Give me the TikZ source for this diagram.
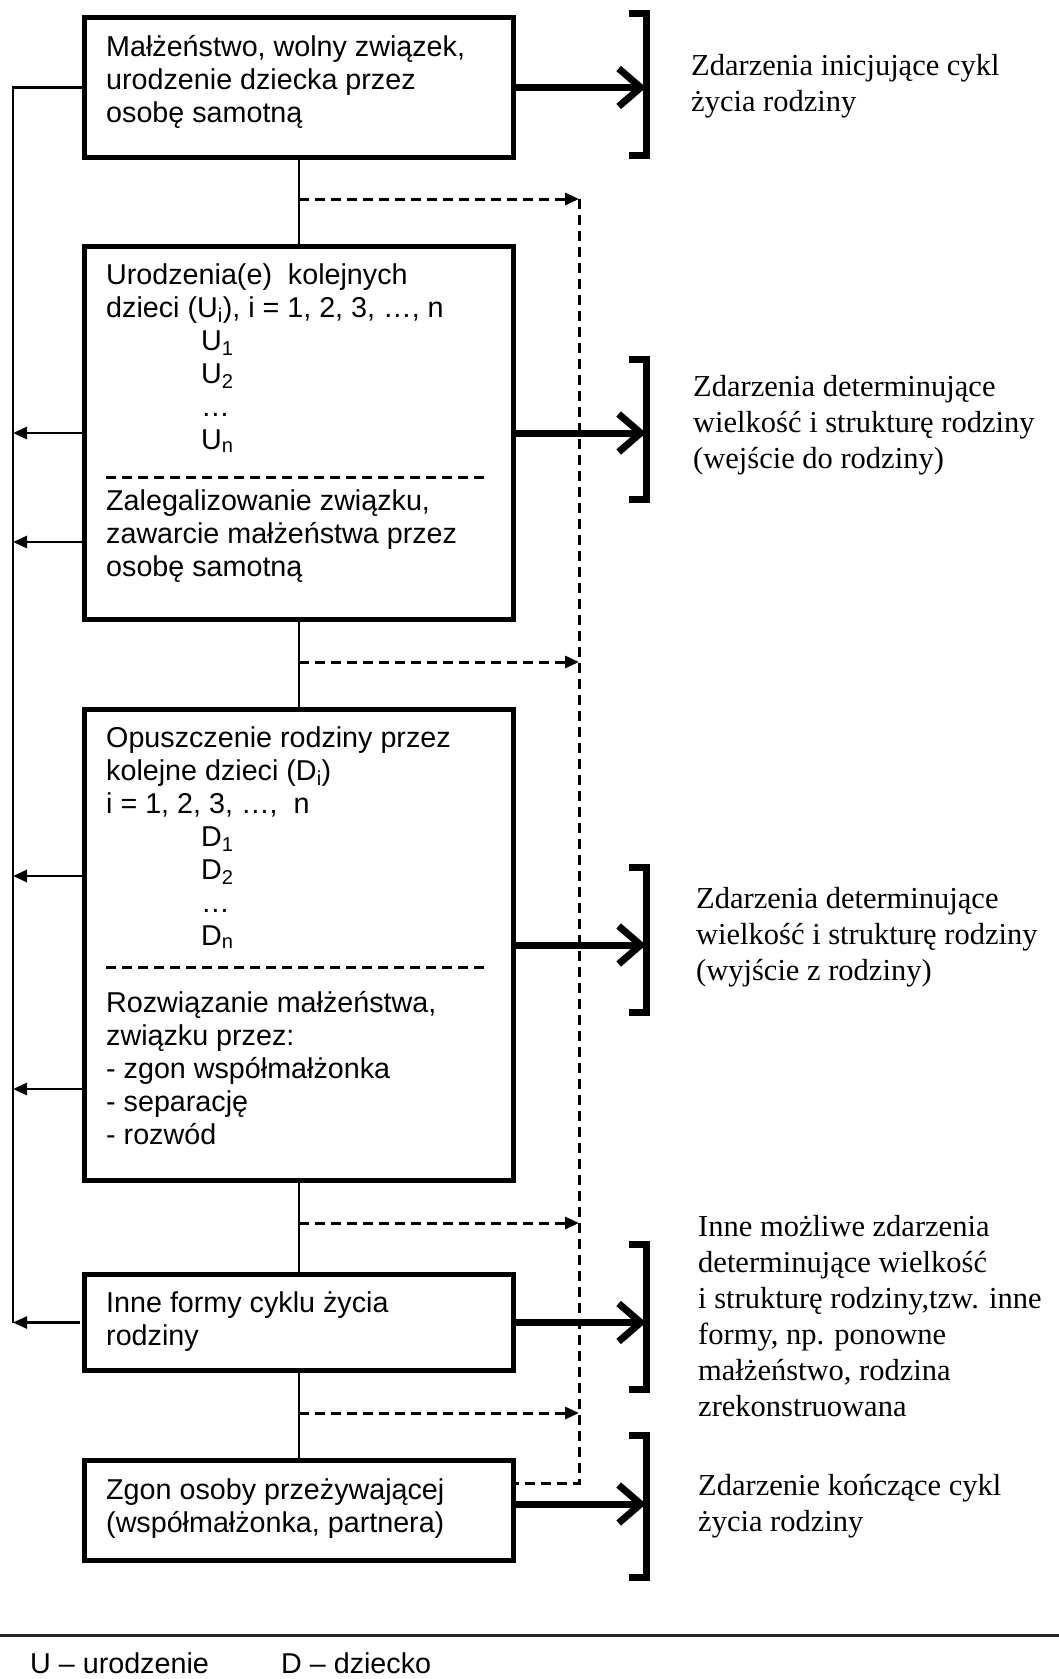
\documentclass[tikz,border=0pt]{standalone}
\usepackage{fontspec}
\setmainfont{Liberation Serif}
\newfontfamily\sansbox{Liberation Sans}
\usetikzlibrary{arrows.meta}

\tikzset{
  event/.style={draw, rectangle, line width=5pt, inner sep=0pt,
                minimum width=429pt, anchor=north west},
  boxtext/.style={anchor=base west, inner sep=0pt,
                  font=\sansbox\fontsize{28.7}{33}\selectfont},
  sidetext/.style={anchor=base west, inner sep=0pt,
                   font=\fontsize{30.5}{36}\selectfont},
  link/.style={line width=2.6pt},
  thinarr/.style={line width=2.6pt, -{Triangle[length=14pt,width=12pt]}},
  dasharr/.style={line width=3pt, dash pattern=on 10pt off 6pt,
                  -{Triangle[length=14pt,width=12pt]}},
  dashsep/.style={line width=3pt, dash pattern=on 10pt off 6pt},
  bigarr/.style={line width=7pt, -{Straight Barb[length=22pt,width=38pt]}},
  bracket/.style={line width=7pt},
}

\begin{document}
\begin{tikzpicture}[x=1pt,y=-1pt]
\useasboundingbox (0,0) rectangle (1059,1679);

  % helper rails
  \coordinate (leftx) at (13,0);
  \coordinate (dashx) at (579,0);
  \coordinate (rail)  at (646,0);

  % event boxes
  \node[event, minimum height=140pt] (init)   at (82,15)   {};
  \node[event, minimum height=373pt] (births) at (82,244)  {};
  \node[event, minimum height=471pt] (leave)  at (82,707)  {};
  \node[event, minimum height=96pt]  (other)  at (82,1272) {};
  \node[event, minimum height=100pt] (death)  at (82,1458) {};

  % box texts
  \node[boxtext] (inittxt) at (106,56) {\begin{tabular}[t]{@{}l@{}}
    Małżeństwo, wolny związek,\\ urodzenie dziecka przez\\ osobę samotną\end{tabular}};
  \node[boxtext] (birthstxt) at (106,284) {\begin{tabular}[t]{@{}l@{}}
    Urodzenia(e)\ \ kolejnych\\ dzieci (U\textsubscript{i}), i = 1, 2, 3, …, n\\
    \hspace{95pt}U\textsubscript{1}\\ \hspace{95pt}U\textsubscript{2}\\
    \hspace{95pt}…\\ \hspace{95pt}U\textsubscript{n}\end{tabular}};
  \draw[dashsep] (106,477) -- (488,477);
  \node[boxtext] (legaltxt) at (106,510) {\begin{tabular}[t]{@{}l@{}}
    Zalegalizowanie związku,\\ zawarcie małżeństwa przez\\ osobę samotną\end{tabular}};
  \node[boxtext] (leavetxt) at (106,747) {\begin{tabular}[t]{@{}l@{}}
    Opuszczenie rodziny przez\\ kolejne dzieci (D\textsubscript{i})\\ i = 1, 2, 3, …,\ \ n\\
    \hspace{95pt}D\textsubscript{1}\\ \hspace{95pt}D\textsubscript{2}\\
    \hspace{95pt}…\\ \hspace{95pt}D\textsubscript{n}\end{tabular}};
  \draw[dashsep] (106,967) -- (490,967);
  \node[boxtext] (splittxt) at (106,1012) {\begin{tabular}[t]{@{}l@{}}
    Rozwiązanie małżeństwa,\\ związku przez:\\ - zgon współmałżonka\\
    - separację\\ - rozwód\end{tabular}};
  \node[boxtext] (othertxt) at (106,1312) {\begin{tabular}[t]{@{}l@{}}
    Inne formy cyklu życia\\ rodziny\end{tabular}};
  \node[boxtext] (deathtxt) at (106,1499) {\begin{tabular}[t]{@{}l@{}}
    Zgon osoby przeżywającej\\ (współmałżonka, partnera)\end{tabular}};

  % main chain
  \draw[link] (init.south) -- (births.north);
  \draw[link] (births.south) -- (leave.north);
  \draw[link] (leave.south) -- (other.north);
  \draw[link] (other.south) -- (death.north);

  % left return line
  \draw[link] (init.west) -- (init.west -| leftx) -- (other.west -| leftx);
  \draw[thinarr] (births.west) -- (births.west -| leftx);
  \draw[thinarr] (births.west |- 0,542) -- (leftx |- 0,542);
  \draw[thinarr] (leave.west |- 0,876) -- (leftx |- 0,876);
  \draw[thinarr] (leave.west |- 0,1089) -- (leftx |- 0,1089);
  \draw[thinarr, {Triangle[length=14pt,width=12pt]}-, shorten >=2.5pt]
    (other.west -| leftx) -- (other.west);

  % dashed side line
  \coordinate (d1) at (init.south |- 0,199);
  \coordinate (d2) at (births.south |- 0,662);
  \coordinate (d3) at (leave.south |- 0,1223);
  \coordinate (d4) at (other.south |- 0,1413);
  \foreach \d in {d1,d2,d3,d4}
    \draw[dasharr] (\d) -- (\d -| dashx);
  \draw[dashsep] (dashx |- d1) -- (dashx |- 0,1483) -- (death.east |- 0,1483);

  % brackets
  \draw[bracket] (629,13)   -- (rail |- 0,13)   -- (rail |- 0,155)  -- (629,155);
  \draw[bracket] (629,359)  -- (rail |- 0,359)  -- (rail |- 0,499)  -- (629,499);
  \draw[bracket] (629,867)  -- (rail |- 0,867)  -- (rail |- 0,1012) -- (629,1012);
  \draw[bracket] (629,1244) -- (rail |- 0,1244) -- (rail |- 0,1389) -- (629,1389);
  \draw[bracket] (629,1435) -- (rail |- 0,1435) -- (rail |- 0,1577) -- (629,1577);

  % thick arrows
  \draw[bigarr] (init.east)   -- (init.east -| rail);
  \draw[bigarr] (births.east) -- (births.east -| rail);
  \draw[bigarr] (leave.east)  -- (leave.east -| rail);
  \draw[bigarr] (other.east)  -- (other.east -| rail);
  \draw[bigarr] (death.east |- 0,1504) -- (rail |- 0,1504);

  % side labels
  \node[sidetext] (initlab) at (691,75) {\begin{tabular}[t]{@{}l@{}}
    Zdarzenia inicjujące cykl\\ życia rodziny\end{tabular}};
  \node[sidetext] (birthslab) at (693,396) {\begin{tabular}[t]{@{}l@{}}
    Zdarzenia determinujące\\ wielkość i strukturę rodziny\\ (wejście do rodziny)\end{tabular}};
  \node[sidetext] (leavelab) at (696,908) {\begin{tabular}[t]{@{}l@{}}
    Zdarzenia determinujące\\ wielkość i strukturę rodziny\\ (wyjście z rodziny)\end{tabular}};
  \node[sidetext] (otherlab) at (698,1236) {\begin{tabular}[t]{@{}l@{}}
    Inne możliwe zdarzenia\\ determinujące wielkość\\ i strukturę rodziny,tzw. inne\\
    formy, np. ponowne\\ małżeństwo, rodzina\\ zrekonstruowana\end{tabular}};
  \node[sidetext] (deathlab) at (698,1495) {\begin{tabular}[t]{@{}l@{}}
    Zdarzenie kończące cykl\\ życia rodziny\end{tabular}};

  % legend
  \draw[line width=3pt, black!85] (0,1635) -- (1059,1635);
  \node[boxtext] (ukey) at (30,1673) {U – urodzenie};
  \node[boxtext] (dkey) at (281,1673) {D – dziecko};

\end{tikzpicture}
\end{document}
